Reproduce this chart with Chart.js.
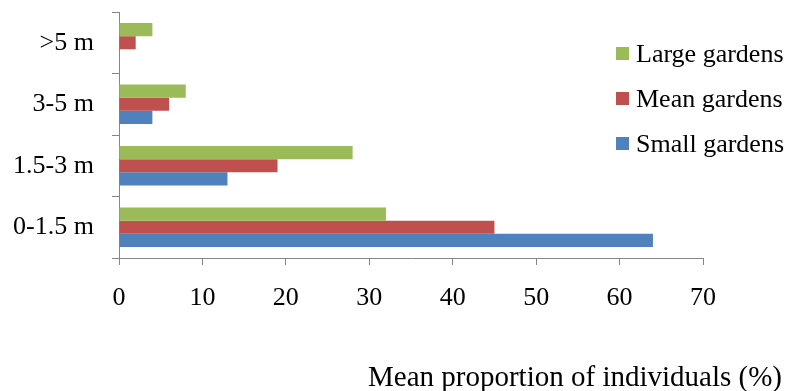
<!DOCTYPE html>
<html>
<head>
<meta charset="utf-8">
<script src="https://cdn.jsdelivr.net/npm/chart.js@4/dist/chart.umd.min.js"></script>
<style>
  body { margin: 0; background: #fff; }
  #wrap { position: relative; width: 786px; height: 391px; font-family: "Liberation Serif", "Times New Roman", serif; color: #000; }
  #legend { position: absolute; left: 616px; top: 31px; font-size: 26px; }
  #legend div { height: 45px; display: flex; align-items: center; }
  #legend span.sq { display: inline-block; width: 13px; height: 13px; margin-right: 7px; }
  #xtitle { position: absolute; right: 4px; top: 360px; font-size: 29px; line-height: 33px; white-space: nowrap; }
</style>
</head>
<body>
<div id="wrap">
  <canvas id="myChart" width="786" height="391"></canvas>
  <div id="legend"></div>
  <div id="xtitle">Mean proportion of individuals (%)</div>
</div>
<script>
// categories listed top to bottom
const categories = [">5 m", "3-5 m", "1.5-3 m", "0-1.5 m"];
const largeGardens = [4, 8, 28, 32];
const meanGardens = [2, 6, 19, 45];
const smallGardens = [0, 4, 13, 64];
const seriesNames = ["Large gardens", "Mean gardens", "Small gardens"];
const seriesColors = ["#9BBB59", "#C0504D", "#4F81BD"];
const xTicks = [0, 10, 20, 30, 40, 50, 60, 70];

const axisColor = "#868686";
const tickFont = { family: "Liberation Serif", size: 26 };

const ctx = document.getElementById("myChart").getContext("2d");
const chart = new Chart(ctx, {
  type: "bar",
  data: {
    labels: categories,
    datasets: [largeGardens, meanGardens, smallGardens].map(function (d, i) {
      return {
        label: seriesNames[i],
        data: d,
        backgroundColor: seriesColors[i],
        borderWidth: 0,
        categoryPercentage: 0.64,
        barPercentage: 1.0
      };
    })
  },
  options: {
    indexAxis: "y",
    responsive: false,
    animation: false,
    layout: { padding: { left: 0, right: 83, top: 12, bottom: 0 } },
    plugins: {
      legend: { display: false },
      tooltip: { enabled: false }
    },
    scales: {
      x: {
        min: xTicks[0],
        max: xTicks[xTicks.length - 1],
        afterFit: function (s) { s.height = 133; },
        afterBuildTicks: function (s) { s.ticks = xTicks.map(function (v) { return { value: v }; }); },
        ticks: { color: "#000", font: tickFont, padding: 18, maxRotation: 0 },
        grid: { drawOnChartArea: false, drawTicks: true, tickLength: 7, color: axisColor },
        border: { display: true, color: axisColor }
      },
      y: {
        // fixed width, and no extra room for the first/last label
        afterFit: function (s) { s.width = 119; s.paddingTop = 0; s.paddingBottom = 0; },
        ticks: { color: "#000", font: tickFont, padding: 18 },
        grid: { drawOnChartArea: false, drawTicks: true, tickLength: 7, color: axisColor, offset: true },
        border: { display: true, color: axisColor }
      }
    }
  }
});

// legend in the same order as the datasets
let out = "";
for (let i = 0; i < seriesNames.length; i++) {
  out += `<div><span class="sq" style="background:${seriesColors[i]}"></span>${seriesNames[i]}</div>`;
}
document.getElementById("legend").innerHTML = out;
</script>
</body>
</html>
